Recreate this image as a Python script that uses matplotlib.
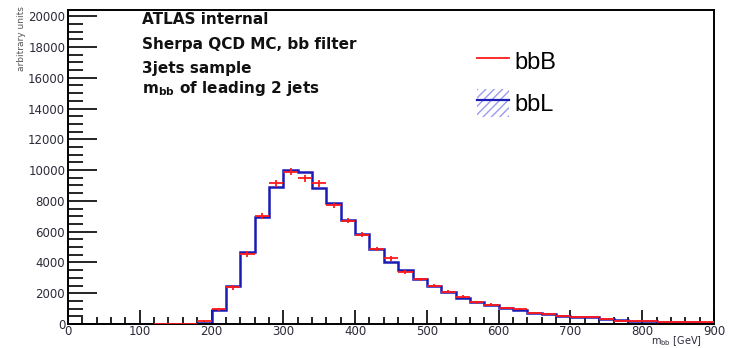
import numpy as np
import matplotlib
matplotlib.use("Agg")
import matplotlib.pyplot as plt
from matplotlib.lines import Line2D
from matplotlib.patches import Patch
from matplotlib.legend_handler import HandlerTuple
from matplotlib.ticker import MultipleLocator

plt.rcParams['font.family'] = ['DejaVu Sans']

# bin edges (GeV)
bin_lo = list(range(0, 900, 20))
bin_width = 20

# bbL (blue histogram)
bbL = [0, 0, 0, 0, 0, 0, 0, 2, 10, 40,
       900, 2470, 4650, 6970, 8920, 9980, 9870, 8810, 7880, 6750,
       5840, 4900, 4050, 3520, 2900, 2480, 2100, 1670, 1400, 1250,
       1060, 900, 720, 640, 520, 430, 430, 320, 270, 200,
       170, 150, 130, 100, 90]

# bbB (red points with errors)
bbB = [0, 0, 0, 0, 0, 0, 5, 5, 5, 200,
       950, 2380, 4550, 7000, 9130, 9900, 9460, 9130, 7700, 6710,
       5800, 4880, 4260, 3400, 2900, 2490, 2100, 1775, 1410, 1255,
       1060, 1000, 710, 650, 520, 430, 430, 300, 215, 200,
       170, 150, 140, 100, 100]
bbB_err = [0, 0, 0, 0, 0, 0, 10, 10, 10, 60,
           110, 150, 180, 200, 210, 210, 210, 210, 190, 180,
           170, 150, 150, 130, 120, 110, 100, 90, 80, 80,
           70, 70, 60, 60, 50, 50, 50, 40, 40, 40,
           30, 30, 30, 30, 30]

fig = plt.figure(figsize=(7.34, 3.48), dpi=100)
ax = fig.add_axes([68/734, 1-324/348, (714-68)/734, (324-10)/348])

edges = np.array(bin_lo + [bin_lo[-1] + bin_width])
ax.stairs(bbL, edges, color='#1a1ab4', lw=1.8, zorder=2)

centers = np.array(bin_lo) + bin_width/2
bbB_a = np.array(bbB, dtype=float)
err_a = np.array(bbB_err, dtype=float)
mask = bbB_a > 0
ax.errorbar(centers[mask], bbB_a[mask], xerr=bin_width/2, yerr=err_a[mask],
            fmt='none', ecolor='#ff1a1a', elinewidth=1.3, capsize=0, zorder=3)

ax.set_xlim(0, 900)
ax.set_ylim(0, 20400)
ax.xaxis.set_major_locator(MultipleLocator(100))
ax.xaxis.set_minor_locator(MultipleLocator(20))
ax.yaxis.set_major_locator(MultipleLocator(2000))
ax.yaxis.set_minor_locator(MultipleLocator(500))
ax.tick_params(axis='both', which='both', direction='in', colors='black',
               labelcolor='#2a2a3a', labelsize=8.5, width=1.2)
ax.tick_params(axis='x', which='major', length=10, pad=1)
ax.tick_params(axis='x', which='minor', length=5)
ax.tick_params(axis='y', which='major', length=21, pad=2)
ax.tick_params(axis='y', which='minor', length=11)
for s in ax.spines.values():
    s.set_linewidth(1.4)

# annotation text
txt = ["ATLAS internal", "Sherpa QCD MC, bb filter", "3jets sample",
       r"m$_{\mathbf{bb}}$ of leading 2 jets"]
ys = [19, 44, 68, 89]
for t, y in zip(txt, ys):
    fig.text(142/734, 1 - y/348, t, fontsize=11, fontweight='bold',
             ha='left', va='center', color='#111111')

# axis labels
fig.text(21/734, 1 - 6/348, "arbitrary units", rotation=90, fontsize=6.5,
         ha='center', va='top', color='#555555')
fig.text(702/734, 1 - 347.8/348, r"m$_{\mathrm{bb}}$ [GeV]", fontsize=7,
         ha='right', va='bottom', color='#2a2a3a')

# legend
h1 = Line2D([], [], color='#ff1a1a', lw=1.3)
h2 = (Patch(facecolor='none', edgecolor='#9b9bf0', lw=0, hatch='////'),
      Line2D([], [], color='#1a1ab4', lw=1.6))
leg = ax.legend([h1, h2], ["bbB", "bbL"], loc='upper left',
                bbox_to_anchor=(397/646, 1 - 25/314),
                prop={'family': 'Liberation Sans', 'size': 17},
                frameon=False, handlelength=1.35, handleheight=1.5,
                handletextpad=0.25, labelspacing=0.55, borderpad=0,
                handler_map={tuple: HandlerTuple(ndivide=1, pad=0)})

fig.savefig("out.png", dpi=100)
